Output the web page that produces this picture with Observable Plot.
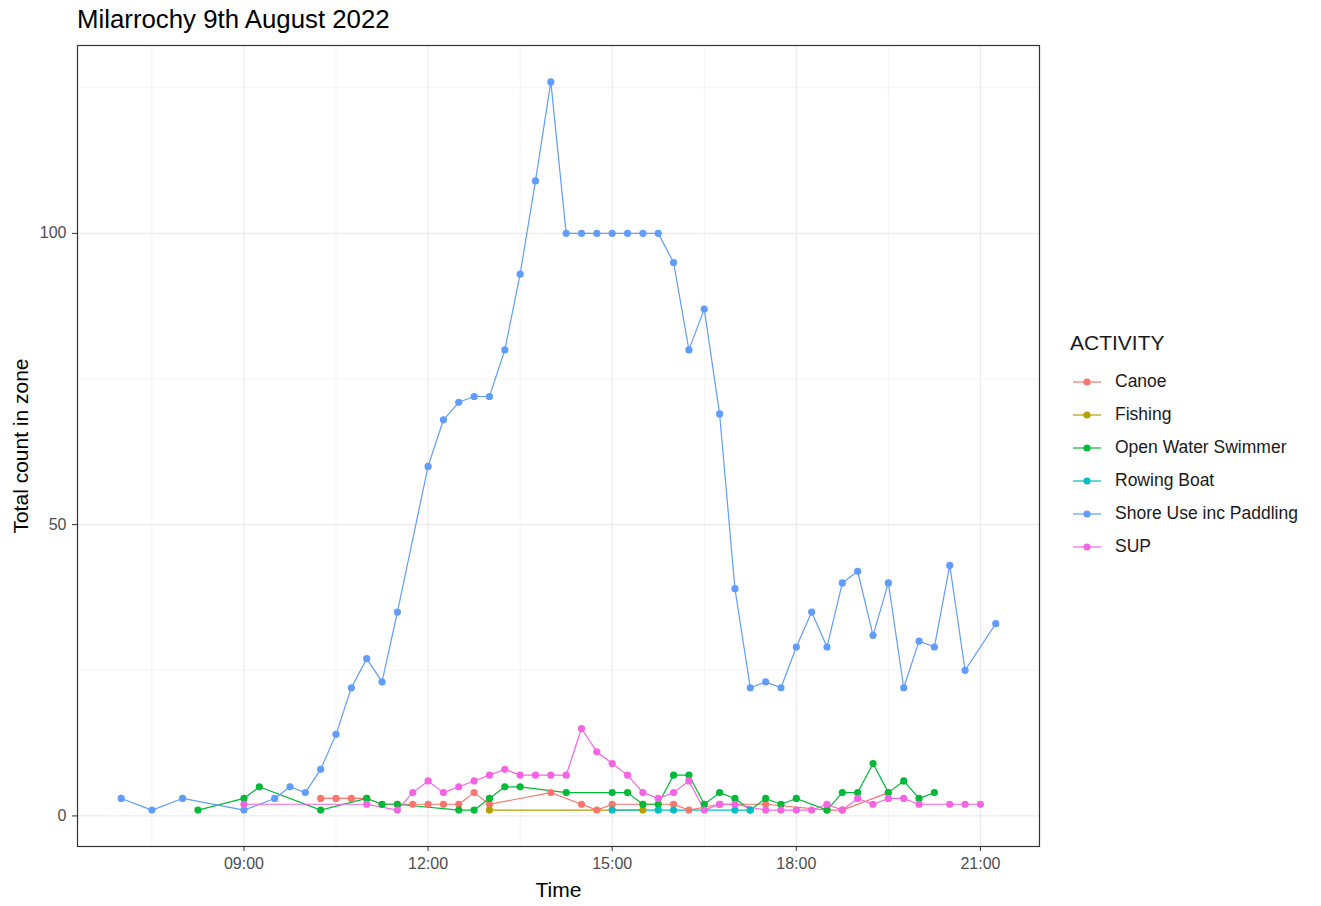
<!DOCTYPE html>
<html>
<head>
<meta charset="utf-8">
<script src="https://cdn.jsdelivr.net/npm/d3@7"></script>
<script src="https://cdn.jsdelivr.net/npm/@observablehq/plot@0.6"></script>
<style>
  body { margin: 0; background: #fff; font-family: "Liberation Sans", Arial, sans-serif; }
  #wrap { position: relative; width: 1321px; height: 906px; }
  #title { position: absolute; left: 77px; top: 5px; font-size: 25.8px; color: #000; white-space: nowrap; }
  #chart { position: absolute; left: 0; top: 38px; }
  #legend { position: absolute; left: 1070px; top: 329px; color: #1a1a1a; }
  #legend .lt { font-size: 21px; height: 28px; line-height: 28px; margin-bottom: 8px; }
  #legend .it { display: flex; align-items: center; height: 33px; font-size: 17.5px; }
  #legend svg { margin-left: 2px; margin-right: 13px; }
  #chart text { font-family: "Liberation Sans", Arial, sans-serif; }
  #chart g[aria-label="x-axis tick label"] text, #chart g[aria-label="y-axis tick label"] text { fill: #4d4d4d; }
</style>
</head>
<body>
<div id="wrap">
  <div id="title">Milarrochy 9th August 2022</div>
  <div id="chart"></div>
  <div id="legend"></div>
</div>
<script>
const activities = ["Canoe", "Fishing", "Open Water Swimmer", "Rowing Boat", "Shore Use inc Paddling", "SUP"];
const colors = ["#F8766D", "#B79F00", "#00BA38", "#00BFC4", "#619CFF", "#F564E3"];

const canoeTimes = ["10:15","10:30","10:45","11:00","11:15","11:30","11:45","12:00","12:15","12:30","12:45","13:00","14:00","14:30","14:45","15:00","15:30","16:00","16:15","16:45","17:30","18:30","18:45","19:30"];
const canoeValues = [3,3,3,3,2,2,2,2,2,2,4,2,4,2,1,2,2,2,1,2,2,1,1,4];

const fishingTimes = ["13:00","15:30"];
const fishingValues = [1,1];

const swimTimes = ["08:15","09:00","09:15","10:15","11:00","11:15","11:30","12:30","12:45","13:00","13:15","13:30","14:15","15:00","15:15","15:30","15:45","16:00","16:15","16:30","16:45","17:00","17:15","17:30","17:45","18:00","18:30","18:45","19:00","19:15","19:30","19:45","20:00","20:15"];
const swimValues = [1,3,5,1,3,2,2,1,1,3,5,5,4,4,4,2,2,7,7,2,4,3,1,3,2,3,1,4,4,9,4,6,3,4];

const rowingTimes = ["15:00","15:45","16:00","17:00","17:15"];
const rowingValues = [1,1,1,1,1];

const shoreTimes = ["07:00","07:30","08:00","09:00","09:30","09:45","10:00","10:15","10:30","10:45","11:00","11:15","11:30","12:00","12:15","12:30","12:45","13:00","13:15","13:30","13:45","14:00","14:15","14:30","14:45","15:00","15:15","15:30","15:45","16:00","16:15","16:30","16:45","17:00","17:15","17:30","17:45","18:00","18:15","18:30","18:45","19:00","19:15","19:30","19:45","20:00","20:15","20:30","20:45","21:15"];
const shoreValues = [3,1,3,1,3,5,4,8,14,22,27,23,35,60,68,71,72,72,80,93,109,126,100,100,100,100,100,100,100,95,80,87,69,39,22,23,22,29,35,29,40,42,31,40,22,30,29,43,25,33];

const supTimes = ["09:00","11:00","11:30","11:45","12:00","12:15","12:30","12:45","13:00","13:15","13:30","13:45","14:00","14:15","14:30","14:45","15:00","15:15","15:30","15:45","16:00","16:15","16:30","16:45","17:00","17:30","17:45","18:00","18:15","18:30","18:45","19:00","19:15","19:30","19:45","20:00","20:30","20:45","21:00"];
const supValues = [2,2,1,4,6,4,5,6,7,8,7,7,7,7,15,11,9,7,4,3,4,6,1,2,2,1,1,1,1,2,1,3,2,3,3,2,2,2,2];

const xTicks = [9, 12, 15, 18, 21];
const xMinor = [7.5, 10.5, 13.5, 16.5, 19.5];
const yTicks = [0, 50, 100];
const yMinor = [25, 75, 125];

const series = [
  [activities[0], canoeTimes, canoeValues],
  [activities[1], fishingTimes, fishingValues],
  [activities[2], swimTimes, swimValues],
  [activities[3], rowingTimes, rowingValues],
  [activities[4], shoreTimes, shoreValues],
  [activities[5], supTimes, supValues]
];
const toH = s => { const [h, m] = s.split(":").map(Number); return h + m / 60; };
const data = series.flatMap(([a, ts, vs]) => ts.map((t, i) => ({activity: a, t: toH(t), v: vs[i]})));

const fmt = h => String(h).padStart(2, "0") + ":00";
const grid = "#ebebeb";

const plot = Plot.plot({
  width: 1050,
  height: 868,
  marginLeft: 77,
  marginRight: 11,
  marginTop: 7,
  marginBottom: 60,
  style: {fontFamily: "Liberation Sans, Arial, sans-serif", background: "white"},
  x: {domain: [6.2875, 21.9625]},
  y: {domain: [-5.25, 132.25]},
  color: {domain: activities, range: colors},
  marks: [
    Plot.gridX(xMinor, {stroke: grid, strokeOpacity: 1, strokeWidth: 0.6}),
    Plot.gridY(yMinor, {stroke: grid, strokeOpacity: 1, strokeWidth: 0.6}),
    Plot.gridX(xTicks, {stroke: grid, strokeOpacity: 1, strokeWidth: 1.2}),
    Plot.gridY(yTicks, {stroke: grid, strokeOpacity: 1, strokeWidth: 1.2}),
    Plot.axisX({ticks: xTicks, tickFormat: fmt, tickSize: 5, tickPadding: 6, fontSize: 16, label: null, stroke: "#333"}),
    Plot.axisY({ticks: yTicks, tickSize: 5, tickPadding: 6, fontSize: 16, label: null, stroke: "#333"}),
    Plot.line(data, {x: "t", y: "v", z: "activity", stroke: "activity", strokeWidth: 1.2}),
    Plot.dot(data, {x: "t", y: "v", fill: "activity", r: 3.6}),
    Plot.frame({stroke: "#333", strokeWidth: 1.2}),
    Plot.text(["Time"], {frameAnchor: "bottom", dy: 50, fontSize: 21, fill: "#000"}),
    Plot.text(["Total count in zone"], {frameAnchor: "left", textAnchor: "middle", dx: -56, rotate: -90, fontSize: 21, fill: "#000"})
  ]
});
document.getElementById("chart").appendChild(plot);

const leg = document.getElementById("legend");
const lt = document.createElement("div");
lt.className = "lt";
lt.textContent = "ACTIVITY";
leg.appendChild(lt);
activities.forEach((a, i) => {
  const it = document.createElement("div");
  it.className = "it";
  it.innerHTML = `<svg width="30" height="14"><line x1="1" x2="29" y1="7" y2="7" stroke="${colors[i]}" stroke-width="1.2"/><circle cx="15" cy="7" r="3.6" fill="${colors[i]}"/></svg><span>${a}</span>`;
  leg.appendChild(it);
});
</script>
</body>
</html>
